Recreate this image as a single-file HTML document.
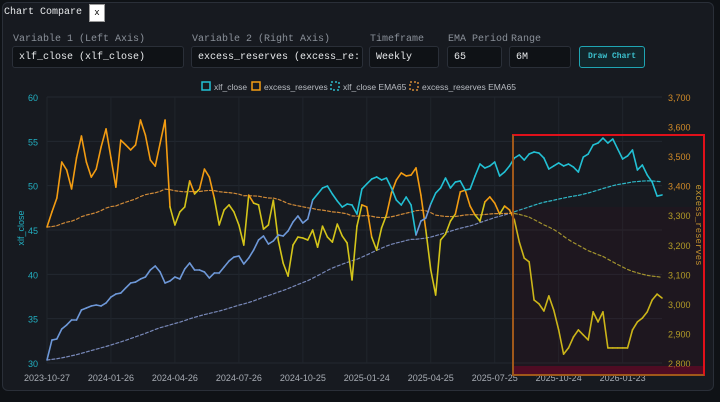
<!DOCTYPE html>
<html><head><meta charset="utf-8">
<style>
*{box-sizing:border-box;margin:0;padding:0}
body{width:720px;height:402px;background:#0f1216;font-family:"Liberation Mono",monospace;color:#c8ccd2;overflow:hidden;position:relative}
#panel{position:absolute;left:2px;top:2px;width:712px;height:389px;background:#171a20;border:1px solid #2a2f38;border-radius:6px}
.t{position:absolute;font-size:11px}
.lbl{position:absolute;top:34px;font-size:10px;color:#8a9099}
.inp{position:absolute;top:46px;height:22px;background:#0f1216;border:1px solid #2a2f38;border-radius:3px;font-size:10px;color:#e6e8ea;padding:5px 6px;white-space:nowrap;overflow:hidden}
#btn{position:absolute;left:579px;top:46px;width:66px;height:22px;border:1px solid #1fa5b3;border-radius:3px;background:#12262b;color:#3cc3d0;font-size:8px;text-align:center;line-height:20px;font-weight:bold}
svg{position:absolute;left:0;top:0}
</style></head><body>
<div id="panel"></div>
<div class="t" style="left:4px;top:7px;color:#e8eaec;font-size:10px">Chart Compare</div>
<div style="position:absolute;left:89px;top:4px;width:16px;height:18px;background:#fff;color:#000;font-size:9px;text-align:center;line-height:17px;border:1px solid #999">x</div>
<div class="lbl" style="left:13px">Variable 1 (Left Axis)</div>
<div class="inp" style="left:12px;width:172px">xlf_close (xlf_close)</div>
<div class="lbl" style="left:192px">Variable 2 (Right Axis)</div>
<div class="inp" style="left:191px;width:172px">excess_reserves (excess_re:</div>
<div class="lbl" style="left:370px">Timeframe</div>
<div class="inp" style="left:369px;width:70px">Weekly</div>
<div class="lbl" style="left:448px">EMA Period</div>
<div class="inp" style="left:447px;width:55px">65</div>
<div class="lbl" style="left:511px">Range</div>
<div class="inp" style="left:509px;width:62px">6M</div>
<div id="btn">Draw Chart</div>
<svg id="chart" width="720" height="402"></svg>
<script>
const xlf=[30.34,32.59,32.71,33.83,34.29,34.85,34.85,35.98,36.20,36.43,36.54,36.43,36.77,37.44,37.78,37.89,38.46,39.02,39.13,39.47,39.70,40.49,40.94,40.26,39.02,39.25,39.70,39.47,40.60,41.28,40.49,40.49,40.26,39.59,40.15,40.15,40.83,41.50,41.95,42.07,41.17,41.84,42.74,43.87,44.32,43.42,43.76,44.44,44.32,44.89,45.90,46.58,45.79,46.24,48.38,49.06,49.74,49.96,49.06,48.27,47.59,47.93,47.82,46.80,49.62,50.19,50.75,50.98,50.64,50.86,49.74,48.38,47.82,48.72,47.82,44.44,46.01,46.35,47.93,49.17,49.74,50.86,49.74,50.41,50.53,49.51,49.62,51.09,52.44,51.99,52.22,52.67,51.09,51.54,52.22,53.12,53.46,52.89,53.57,53.80,53.68,53.12,51.88,52.22,52.56,52.22,52.44,52.10,51.54,53.23,53.57,54.59,54.81,55.37,54.81,55.26,54.13,53.01,53.35,54.02,51.77,52.33,51.20,50.41,48.83,48.95];
const excess=[3260,3311,3358,3480,3453,3389,3494,3568,3480,3429,3456,3531,3592,3494,3395,3554,3538,3521,3538,3622,3571,3487,3466,3544,3622,3328,3267,3311,3328,3416,3372,3389,3456,3429,3358,3267,3318,3335,3311,3267,3199,3368,3341,3335,3253,3267,3351,3216,3138,3094,3199,3226,3223,3216,3250,3192,3263,3226,3209,3270,3230,3206,3081,3263,3335,3328,3226,3182,3257,3301,3375,3419,3443,3433,3436,3460,3368,3250,3115,3030,3216,3236,3280,3304,3379,3385,3331,3301,3280,3345,3362,3341,3304,3331,3318,3284,3209,3155,3142,3013,3000,2976,3027,2979,2912,2830,2851,2888,2912,2895,2878,2973,2939,2973,2851,2851,2851,2851,2851,2912,2939,2952,2973,3013,3033,3020];
const dateLabels=["2023-10-27","2024-01-26","2024-04-26","2024-07-26","2024-10-25","2025-01-24","2025-04-25","2025-07-25","2025-10-24","2026-01-23"];
const leftTicks=[30,35,40,45,50,55,60];
const rightTicks=[2800,2900,3000,3100,3200,3300,3400,3500,3600,3700];
const emaPeriod=65;

const svg=document.getElementById('chart');
const NS='http://www.w3.org/2000/svg';
const X0=47,DX=4.92,YT=97,YB=363;
const xs=i=>X0+DX*i;
const yL=v=>YB-(v-30)/30*(YB-YT);
const yR=v=>YB-(v-2800)/900*(YB-YT);
function ema(a){const k=2/(emaPeriod+1);const o=[a[0]];for(let i=1;i<a.length;i++)o.push(a[i]*k+o[i-1]*(1-k));return o;}
const xE=ema(xlf),eE=ema(excess);
function el(t,at){const e=document.createElementNS(NS,t);for(const k in at)e.setAttribute(k,at[k]);svg.appendChild(e);return e;}
leftTicks.forEach(v=>{const g=el('line',{x1:X0,x2:662,y1:yL(v),y2:yL(v),stroke:'#232830','stroke-width':1});


const t=el('text',{x:38,y:yL(v)+4,'text-anchor':'end','font-size':9,fill:'#22b0c2','font-family':'Liberation Sans, sans-serif'});t.textContent=v;

});
rightTicks.forEach(v=>{const t=el('text',{x:668,y:yR(v)+4,'font-size':9,fill:v>=3400?'#d08a28':'#b8a828','font-family':'Liberation Sans, sans-serif'});t.textContent=v.toLocaleString('en-US');

});
dateLabels.forEach((d,k)=>{const x=xs(k*13);const g=el('line',{x1:x,x2:x,y1:YT,y2:YB,stroke:'#20252c','stroke-width':1});


const t=el('text',{x:x,y:381,'text-anchor':'middle','font-size':9,fill:'#a8adb4','font-family':'Liberation Sans, sans-serif'});t.textContent=d;

});
let at=el('text',{x:0,y:0,transform:'translate(24,228) rotate(-90)','text-anchor':'middle','font-size':9,fill:'#22b0c2','font-family':'Liberation Sans, sans-serif'});at.textContent='xlf_close';


at=el('text',{x:0,y:0,transform:'translate(696,225) rotate(90)','text-anchor':'middle','font-size':9,fill:'#c89a30','font-family':'Liberation Mono, monospace'});at.textContent='excess_reserves';


function seg(arr,yf,colorFn,w,dash,name){for(let i=0;i<arr.length-1;i++){const a={x1:xs(i),y1:yf(arr[i]),x2:xs(i+1),y2:yf(arr[i+1]),stroke:colorFn(i),'stroke-width':w,'stroke-linecap':'round'};if(dash)a['stroke-dasharray']=dash;const l=el('line',a);

}}
seg(xE,yL,i=>yL(xE[i])<yR(eE[i])?'#2fb8c8':'#7888b8',1.2,'3,3','xlf-ema-line');
seg(eE,yR,i=>yR(eE[i])<yL(xE[i])?'#d08a38':'#a8a030',1.2,'3,3','excess-ema-line');
seg(excess,yR,i=>excess[i]>=eE[i]?'#f39c12':'#d4c51a',1.6,null,'excess-reserves-line');
seg(xlf,yL,i=>yL(xlf[i])<yR(eE[i])?'#22c0d4':'#6e98d8',1.6,null,'xlf-close-line');
let r=el('rect',{x:513,y:207,width:191,height:168,fill:'rgba(120,0,30,0.08)'});


r=el('rect',{x:513,y:366,width:191,height:9,fill:'rgba(140,0,40,0.45)'});


r=el('rect',{x:513,y:135,width:191,height:240,fill:'none',stroke:'#e0101a','stroke-width':2});


r=el('path',{d:'M513,135 V375 H704',fill:'none',stroke:'#a0581a','stroke-width':2});


const leg=[['xlf_close','#22c0d4',false,206],['excess_reserves','#f39c12',false,256],['xlf_close EMA65','#2fb8c8',true,335],['excess_reserves EMA65','#d08a38',true,414]];
leg.forEach(([n,c,d,x])=>{const b=el('rect',{x:x-4,y:82,width:8,height:8,fill:'none',stroke:c,'stroke-width':1.5});if(d)b.setAttribute('stroke-dasharray','2,2');


const t=el('text',{x:x+8,y:90,'font-size':8.5,fill:'#b8bcc2','font-family':'Liberation Sans, sans-serif'});t.textContent=n;

});
</script>
</body></html>
